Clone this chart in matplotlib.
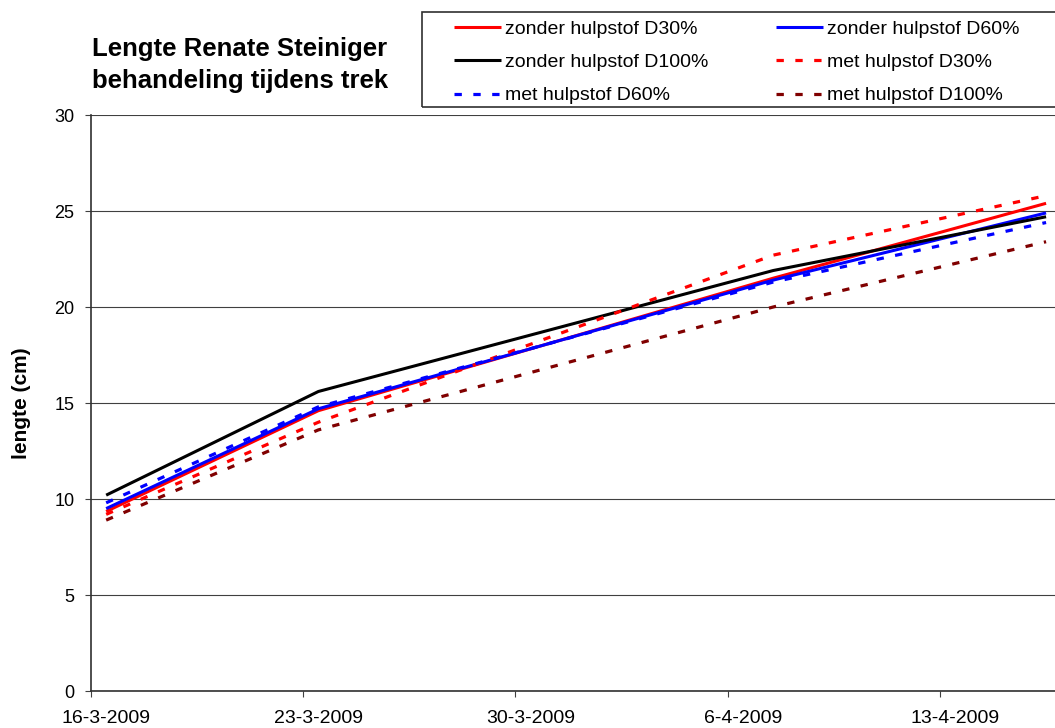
import matplotlib
matplotlib.use("Agg")
import matplotlib.pyplot as plt
import pandas as pd
from matplotlib.patches import Rectangle

plt.rcParams.update({
    "font.family": ["Liberation Sans", "DejaVu Sans"],
    "font.size": 13,
})

# meetdata lengte (cm) per meetdatum
datums = ["2009-03-16", "2009-03-23", "2009-04-07", "2009-04-16"]
zonder_d30 = [9.35, 14.6, 21.5, 25.4]
zonder_d60 = [9.5, 14.7, 21.4, 24.9]
zonder_d100 = [10.2, 15.6, 21.9, 24.7]
met_d30 = [9.2, 14.0, 22.7, 25.8]
met_d60 = [9.8, 14.8, 21.3, 24.4]
met_d100 = [8.9, 13.6, 20.0, 23.4]

tick_datums = ["2009-03-16", "2009-03-23", "2009-03-30", "2009-04-06", "2009-04-13"]
tick_labels = ["16-3-2009", "23-3-2009", "30-3-2009", "6-4-2009", "13-4-2009"]

W, H = 1055, 728
fig = plt.figure(figsize=(W / 100, H / 100), dpi=100)
ax = fig.add_axes([91 / W, 37 / H, 964 / W, 576 / H])

# punten staan midden in de dag (zoals op een datum-as in Excel)
start = pd.Timestamp("2009-03-16")
half = pd.Timedelta(hours=12)
x = pd.to_datetime(datums) + half
x = (x - start) / pd.Timedelta(days=1)

solid = dict(lw=2.2, solid_capstyle="butt")
dash = dict(lw=2.3, dashes=(2.3, 3.6), dash_capstyle="butt")

series = [
    ("zonder hulpstof D30%", zonder_d30, "#FF0000", solid),
    ("zonder hulpstof D60%", zonder_d60, "#0000FF", solid),
    ("zonder hulpstof D100%", zonder_d100, "#000000", solid),
    ("met hulpstof D30%", met_d30, "#FF0000", dash),
    ("met hulpstof D60%", met_d60, "#0000FF", dash),
    ("met hulpstof D100%", met_d100, "#800000", dash),
]
lines = {}
for label, vals, col, style in series:
    (ln,) = ax.plot(x, vals, color=col, label=label, **style)
    lines[label] = ln

ax.set_ylim(0, 30)
ax.set_xlim(0, 964 / 30.32)
ax.set_yticks(range(0, 31, 5))
ax.yaxis.grid(True, color="#404040", lw=0.8)
ax.set_axisbelow(True)

ticks = (pd.to_datetime(tick_datums) - start) / pd.Timedelta(days=1)
ax.set_xticks(ticks)
ax.set_xticklabels([""] * len(ticks))
ax.set_xticks(ticks + 0.5, tick_labels, minor=True)
ax.tick_params(axis="x", which="major", direction="out", length=4, color="#404040")
ax.tick_params(axis="x", which="minor", length=0, pad=14, labelsize=14)
ax.tick_params(axis="y", direction="out", length=4, pad=8, color="#404040")

for side in ["top", "right"]:
    ax.spines[side].set_visible(False)
for side in ["left", "bottom"]:
    ax.spines[side].set_color("#303030")
    ax.spines[side].set_linewidth(1.2)

fig.text(22 / W, 1 - 403 / H, "lengte (cm)", rotation=90, fontsize=15,
         fontweight="bold", ha="center", va="center")

fig.text(240 / W, 1 - 65 / H, "Lengte Renate Steiniger\nbehandeling tijdens trek",
         fontsize=18.5, fontweight="bold", ha="center", va="center", linespacing=1.45)

# legenda: rij voor rij zoals in de kolommen ingedeeld
order = ["zonder hulpstof D30%", "zonder hulpstof D100%", "met hulpstof D60%",
         "zonder hulpstof D60%", "met hulpstof D30%", "met hulpstof D100%"]
fig.legend([lines[k] for k in order], order, ncol=2, frameon=False, fontsize=14,
           loc="upper left", bbox_to_anchor=(454 / W, 1 - 20.5 / H),
           borderpad=0, borderaxespad=0, handlelength=2.4, handletextpad=0.2,
           columnspacing=3.5, labelspacing=0.8)
fig.patches.append(Rectangle((422 / W, 1 - 107 / H), 700 / W, 95 / H,
                             transform=fig.transFigure, fill=False,
                             edgecolor="#303030", lw=1.2))

fig.savefig("out.png", dpi=100)
